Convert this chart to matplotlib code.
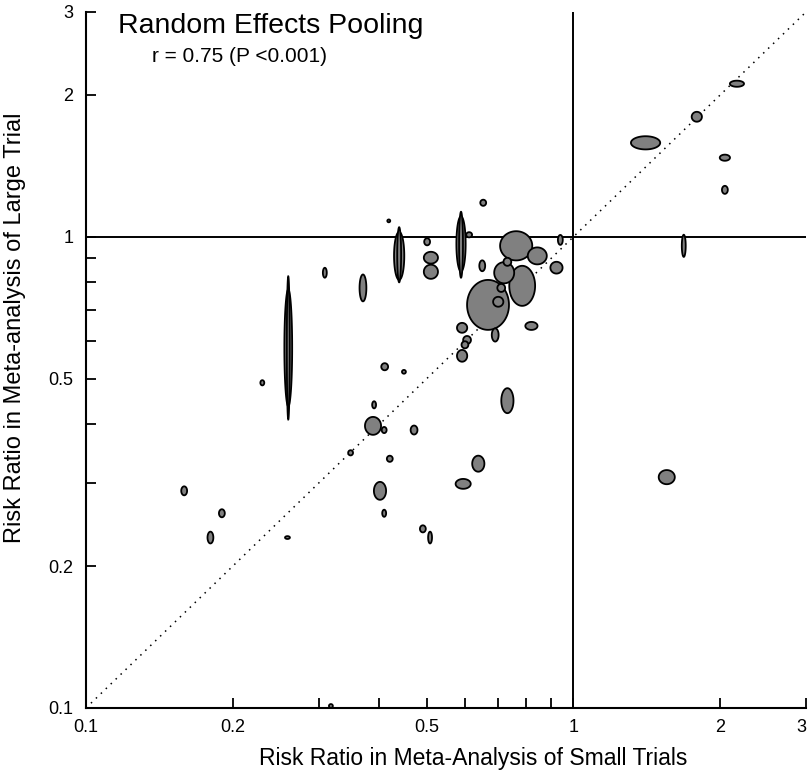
import numpy as np
import matplotlib
matplotlib.use('Agg')
import matplotlib.pyplot as plt
from matplotlib.ticker import FixedLocator, NullLocator

plt.rcParams['font.family'] = ['Liberation Sans', 'DejaVu Sans']

# pooled risk ratios: small-trial meta-analysis (x) vs large trial (y)
rr_small = [0.260, 0.260, 0.439, 0.439, 0.501, 0.510, 0.510, 0.588, 0.588, 0.611,
            0.653, 0.763, 0.843, 0.923, 0.940, 0.650, 0.732, 0.721, 0.785, 0.668,
            0.701, 0.711, 0.691, 0.820, 0.591, 0.605, 0.599, 0.591, 0.309, 0.370,
            0.230, 0.410, 0.449, 0.732, 0.390, 0.388, 0.409, 0.471, 0.349, 0.420,
            0.638, 0.594, 0.401, 0.159, 0.190, 0.409, 0.491, 0.508, 0.180, 0.259,
            2.165, 1.791, 1.406, 2.045, 2.045, 1.684, 1.554, 0.318, 0.418]
rr_large = [0.581, 0.581, 0.916, 0.911, 0.976, 0.903, 0.843, 0.962, 0.966, 1.010,
            1.181, 0.957, 0.911, 0.860, 0.985, 0.868, 0.885, 0.839, 0.787, 0.717,
            0.728, 0.779, 0.619, 0.647, 0.641, 0.604, 0.590, 0.559, 0.839, 0.779,
            0.490, 0.530, 0.517, 0.449, 0.440, 0.397, 0.389, 0.389, 0.348, 0.338,
            0.330, 0.299, 0.289, 0.289, 0.259, 0.259, 0.240, 0.230, 0.230, 0.230,
            2.113, 1.798, 1.583, 1.472, 1.258, 0.957, 0.309, 0.101, 1.081]
# ellipse extent (full width / height) in log10 units
span_small = [0.006, 0.016, 0.008, 0.021, 0.012, 0.029, 0.029, 0.008, 0.019, 0.012,
              0.012, 0.066, 0.039, 0.025, 0.010, 0.012, 0.016, 0.041, 0.053, 0.086,
              0.021, 0.016, 0.014, 0.025, 0.021, 0.016, 0.014, 0.021, 0.008, 0.014,
              0.008, 0.014, 0.008, 0.025, 0.008, 0.033, 0.010, 0.014, 0.010, 0.012,
              0.025, 0.031, 0.025, 0.012, 0.012, 0.008, 0.012, 0.008, 0.012, 0.010,
              0.029, 0.021, 0.060, 0.021, 0.012, 0.008, 0.033, 0.008, 0.006]
span_large = [0.304, 0.248, 0.117, 0.102, 0.015, 0.025, 0.030, 0.140, 0.117, 0.011,
              0.013, 0.062, 0.036, 0.025, 0.021, 0.023, 0.017, 0.045, 0.085, 0.106,
              0.021, 0.017, 0.028, 0.017, 0.021, 0.017, 0.015, 0.025, 0.021, 0.057,
              0.011, 0.015, 0.008, 0.053, 0.015, 0.038, 0.013, 0.019, 0.011, 0.013,
              0.034, 0.021, 0.038, 0.019, 0.017, 0.015, 0.015, 0.025, 0.025, 0.006,
              0.013, 0.021, 0.028, 0.013, 0.017, 0.047, 0.030, 0.008, 0.006]

ticks = [0.1, 0.2, 0.3, 0.4, 0.5, 0.6, 0.7, 0.8, 0.9, 1, 2, 3]
tick_labels = ['0.1', '0.2', '', '', '0.5', '', '', '', '', '1', '2', '3']

fig = plt.figure(figsize=(8.09, 7.78), dpi=100)
ax = fig.add_axes([86/809, 70/778, 720/809, 696/778])
ax.set_xscale('log')
ax.set_yscale('log')
ax.set_xlim(0.1, 3)
ax.set_ylim(0.1, 3)

ax.plot([0.1, 3], [0.1, 3], color='k', lw=1.1, linestyle=(0, (1, 3.5)))
ax.axhline(1, color='k', lw=1.4)
ax.axvline(1, color='k', lw=1.4)

# big ellipses first so small ones stay visible
order = np.argsort(-np.array(span_small) * np.array(span_large))
t = np.linspace(0, 2*np.pi, 120)
for i in order:
    lx = np.log10(rr_small[i])
    ly = np.log10(rr_large[i])
    xs = 10**(lx + span_small[i]/2*np.cos(t))
    ys = 10**(ly + span_large[i]/2*np.sin(t))
    ax.fill(xs, ys, facecolor='#808080', edgecolor='black', lw=1.3, zorder=3)

for s in ['top', 'right']:
    ax.spines[s].set_visible(False)
for s in ['left', 'bottom']:
    ax.spines[s].set_linewidth(1.5)

for axis in [ax.xaxis, ax.yaxis]:
    axis.set_major_locator(FixedLocator(ticks))
    axis.set_minor_locator(NullLocator())
ax.set_xticklabels(tick_labels)
ax.set_yticklabels(tick_labels)
ax.tick_params(direction='in', length=7, width=1.3, labelsize=13)
ax.tick_params(axis='x', pad=8)
ax.tick_params(axis='y', pad=9)
# last x label sits at the figure edge, as in the source
ax.get_xticklabels()[-1].set_horizontalalignment('right')

ax.set_xlabel('Risk Ratio in Meta-Analysis of Small Trials', fontsize=16.5)
ax.xaxis.set_label_coords((473-86)/720, -(747-708)/696)
ax.set_ylabel('Risk Ratio in Meta-analysis of Large Trial', fontsize=17)
ax.yaxis.set_label_coords(-(86-26)/720, (708-328)/696)

fig.text(118/809, 1-26/778, 'Random Effects Pooling', fontsize=20.5, va='center', ha='left')
fig.text(152/809, 1-57/778, 'r = 0.75 (P <0.001)', fontsize=15, va='center', ha='left')

fig.savefig('out.png', dpi=100)
